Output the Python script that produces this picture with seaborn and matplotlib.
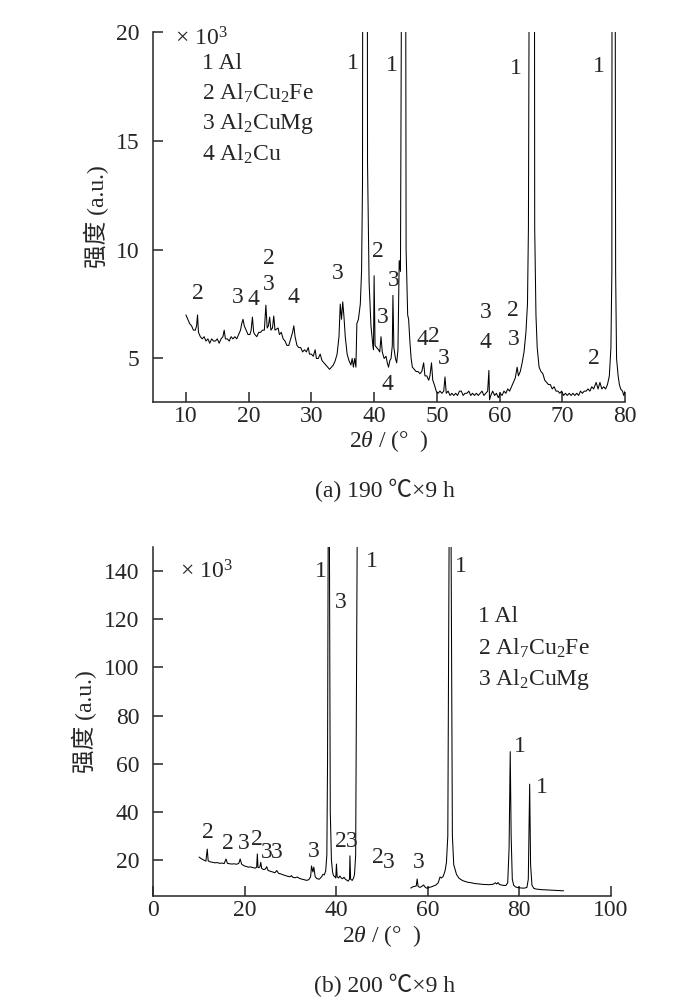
import numpy as np
import pandas as pd
import matplotlib
matplotlib.use('Agg')
import matplotlib.pyplot as plt
import seaborn as sns

# XRD pattern (a) 190 C x 9 h, intensity in 10^3 counts (peaks of Al run off the scale)
two_theta_a = [
    10.0, 10.3, 10.6, 10.9, 11.2, 11.5, 11.7, 11.85, 12.0, 12.3, 12.6, 12.9, 13.2, 13.5, 13.8,
    14.1, 14.4, 14.7, 15.0, 15.3, 15.6, 15.9, 16.1, 16.3, 16.6, 16.9, 17.2, 17.5, 17.8, 18.1,
    18.4, 18.7, 18.9, 19.1, 19.3, 19.6, 19.9, 20.2, 20.4, 20.6, 20.8, 21.0, 21.3, 21.6, 21.9,
    22.2, 22.5, 22.75, 22.95, 23.15, 23.35, 23.55, 23.8, 24.0, 24.2, 24.45, 24.7, 24.9, 25.2,
    25.5, 25.8, 26.1, 26.4, 26.7, 27.0, 27.2, 27.4, 27.7, 28.0, 28.3, 28.6, 28.9, 29.2, 29.5,
    29.7, 30.0, 30.3, 30.6, 30.8, 31.1, 31.4, 31.7, 32.0, 32.3, 32.6, 32.9, 33.2, 33.5, 33.8,
    34.1, 34.4, 34.6, 34.8, 35.0, 35.2, 35.4, 35.7, 36.0, 36.3, 36.5, 36.7, 36.9, 37.1, 37.25,
    37.5, 37.8, 38.0, 38.15, 38.3, 38.55, 38.8, 38.95, 39.2, 39.5, 39.8, 39.9, 40.0, 40.15,
    40.4, 40.7, 40.9, 41.1, 41.3, 41.6, 41.9, 42.1, 42.3, 42.5, 42.7, 42.9, 43.0, 43.15, 43.4,
    43.6, 43.8, 44.0, 44.2, 44.35, 44.45, 44.7, 44.85, 45.1, 45.35, 45.5, 45.7, 45.9, 46.1,
    46.4, 46.7, 47.0, 47.3, 47.6, 47.9, 48.1, 48.4, 48.7, 48.9, 49.15, 49.35, 49.6, 49.9, 50.2,
    50.5, 50.8, 51.1, 51.3, 51.5, 51.8, 52.1, 52.4, 52.7, 53.0, 53.3, 53.6, 53.9, 54.2, 54.5,
    54.8, 55.1, 55.4, 55.7, 56.0, 56.3, 56.6, 56.9, 57.2, 57.5, 57.8, 58.1, 58.3, 58.4, 58.6,
    58.9, 59.2, 59.5, 59.8, 60.1, 60.4, 60.7, 61.0, 61.3, 61.6, 61.9, 62.2, 62.5, 62.8, 63.0,
    63.3, 63.6, 63.9, 64.2, 64.45, 64.6, 64.7, 64.95, 65.2, 65.45, 65.6, 65.8, 66.0, 66.3,
    66.6, 66.9, 67.2, 67.5, 67.8, 68.1, 68.4, 68.7, 69.0, 69.3, 69.6, 69.9, 70.2, 70.5, 70.8,
    71.1, 71.4, 71.7, 72.0, 72.3, 72.6, 72.9, 73.2, 73.5, 73.8, 74.1, 74.4, 74.7, 75.0, 75.4,
    75.7, 76.0, 76.3, 76.6, 76.9, 77.2, 77.5, 77.75, 77.9, 78.0, 78.25, 78.5, 78.65, 78.9,
    79.1, 79.3, 79.6, 79.8, 80.0,
]
intensity_a = [
    7.0, 6.8, 6.6, 6.5, 6.3, 6.3, 6.5, 7.0, 6.2, 6.0, 5.9, 6.0, 5.8, 5.9, 5.7,
    5.9, 5.8, 5.8, 5.9, 5.7, 5.9, 6.0, 6.3, 5.9, 5.9, 5.8, 6.0, 5.9, 6.0, 5.9,
    6.1, 6.3, 6.6, 6.8, 6.5, 6.3, 6.1, 6.1, 6.3, 6.9, 6.2, 6.1, 6.0, 6.2, 6.2,
    6.3, 6.3, 7.45, 6.4, 6.5, 6.9, 6.3, 6.4, 6.95, 6.3, 6.35, 6.4, 6.1, 6.2,
    5.9, 5.8, 5.6, 5.6, 5.9, 6.2, 6.5, 6.0, 5.6, 5.5, 5.5, 5.3, 5.4, 5.3, 5.5,
    5.2, 5.2, 5.1, 5.4, 5.0, 5.0, 5.2, 4.9, 4.8, 4.7, 4.6, 4.5, 4.6, 4.7, 4.9,
    5.2, 6.0, 7.5, 6.8, 7.6, 6.9, 6.0, 5.2, 4.9, 4.7, 5.0, 4.6, 5.0, 4.6, 6.6,
    6.8, 7.5, 9.0, 13.0, 60.0, 60.0, 60.0, 14.0, 8.5, 6.5, 5.6, 5.4, 8.8, 5.6,
    5.5, 5.4, 5.3, 6.0, 5.3, 5.0, 5.1, 4.8, 4.6, 4.9, 5.0, 5.6, 7.9, 5.5, 5.0,
    4.8, 5.4, 9.5, 9.0, 20.0, 60.0, 60.0, 60.0, 10.0, 7.0, 6.8, 5.8, 5.0, 4.6,
    4.5, 4.4, 4.4, 4.3, 4.4, 4.8, 4.2, 4.2, 4.0, 4.2, 4.8, 4.0, 3.8, 3.5, 3.4,
    3.5, 3.4, 3.5, 4.15, 3.4, 3.5, 3.3, 3.4, 3.3, 3.4, 3.3, 3.5, 3.5, 3.3, 3.4,
    3.4, 3.5, 3.3, 3.4, 3.3, 3.4, 3.3, 3.4, 3.5, 3.3, 3.4, 3.5, 4.45, 3.1, 3.3,
    3.5, 3.3, 3.4, 3.2, 3.4, 3.3, 3.5, 3.4, 3.6, 3.5, 3.7, 3.9, 4.1, 4.6, 4.2,
    4.4, 4.8, 5.3, 6.2, 7.5, 11.0, 20.0, 60.0, 60.0, 60.0, 11.0, 7.0, 5.5, 4.6,
    4.4, 4.3, 4.0, 3.9, 3.8, 3.8, 3.6, 3.7, 3.5, 3.5, 3.4, 3.5, 3.3, 3.4, 3.3,
    3.4, 3.3, 3.4, 3.3, 3.4, 3.3, 3.5, 3.4, 3.5, 3.5, 3.6, 3.5, 3.7, 3.6, 3.9,
    3.6, 3.9, 3.6, 3.7, 3.6, 3.8, 4.2, 5.5, 9.0, 60.0, 60.0, 9.0, 5.0, 4.2,
    3.8, 3.6, 3.5, 3.3, 3.5,
]

# XRD pattern (b) 200 C x 9 h, two recorded segments
two_theta_b1 = [
    10.0, 10.5, 11.0, 11.5, 11.8, 12.0, 12.5, 13.0, 13.5, 14.0, 14.5, 15.0, 15.5, 15.9, 16.2,
    16.7, 17.2, 17.7, 18.2, 18.7, 19.0, 19.3, 19.8, 20.3, 20.8, 21.3, 21.8, 22.3, 22.6, 22.75,
    22.9, 23.3, 23.5, 23.7, 24.1, 24.5, 24.8, 25.1, 25.6, 26.1, 26.6, 27.0, 27.4, 27.9, 28.4,
    28.9, 29.4, 29.9, 30.2, 30.5, 31.0, 31.5, 32.0, 32.5, 33.0, 33.5, 34.0, 34.4, 34.6, 34.9,
    35.1, 35.4, 35.8, 36.3, 36.8, 37.1, 37.4, 37.7, 37.95, 38.1, 38.25, 38.5, 38.7, 38.95,
    39.2, 39.4, 39.7, 39.9, 40.05, 40.2, 40.5, 40.8, 41.1, 41.4, 41.7, 42.0, 42.3, 42.6,
    42.9, 43.0, 43.15, 43.5, 43.8, 44.0, 44.25, 44.6,
]
intensity_b1 = [
    21.2, 20.5, 20.0, 19.5, 24.5, 19.6, 19.2, 19.0, 18.8, 18.9, 18.6, 18.7, 18.5, 20.4, 18.6,
    18.4, 18.3, 18.4, 18.2, 18.6, 20.4, 18.3, 17.6, 17.3, 17.0, 17.1, 16.8, 16.6, 17.0, 22.5,
    16.8, 17.0, 19.0, 16.5, 16.0, 16.2, 17.2, 15.6, 15.3, 15.0, 14.7, 15.6, 14.4, 14.2, 13.8,
    13.5, 13.2, 13.0, 13.5, 12.8, 12.6, 12.9, 12.3, 12.0, 11.8, 11.5, 11.8, 13.0, 17.5, 15.0,
    17.0, 13.0, 12.2, 12.0, 13.0, 14.0, 13.8, 15.5, 22.0, 60.0, 160.0, 160.0, 40.0, 20.0,
    15.0, 13.5, 13.0, 12.5, 18.3, 13.0, 12.5, 13.3, 12.5, 12.2, 12.8, 12.0, 11.6, 11.2,
    12.0, 21.7, 12.0, 11.5, 12.5, 14.0, 22.0, 160.0,
]
two_theta_b2 = [
    56.3, 56.7, 57.1, 57.5, 57.7, 57.9, 58.3, 58.7, 59.1, 59.5, 59.9, 60.3, 60.8, 61.3, 61.8,
    62.3, 62.7, 63.0, 63.4, 63.8, 64.1, 64.4, 64.7, 65.1, 65.4, 65.7, 66.3, 66.8, 67.3, 67.8,
    68.3, 68.8, 69.3, 69.8, 70.3, 70.8, 71.3, 71.8, 72.3, 72.8, 73.3, 73.8, 74.3, 74.8, 75.1,
    75.4, 75.7, 76.1, 76.6, 77.1, 77.5, 77.8, 78.05, 78.25, 78.5, 78.8, 79.2, 79.7, 80.2, 80.7,
    81.2, 81.7, 82.0, 82.3, 82.5, 82.8, 83.2, 83.7, 84.2, 84.7, 85.2, 85.7, 86.2, 86.7, 87.2,
    87.7, 88.2, 88.7, 89.2, 89.7,
]
intensity_b2 = [
    8.3, 8.8, 9.0, 9.2, 12.1, 9.0, 8.6, 9.0, 9.6, 8.6, 8.2, 8.6, 8.8, 9.2, 9.6,
    10.5, 12.9, 12.5, 13.2, 15.5, 19.0, 30.0, 160.0, 160.0, 30.0, 18.0, 14.0, 12.5, 11.8, 11.3,
    11.0, 10.7, 10.6, 10.4, 10.2, 10.1, 10.0, 9.9, 9.8, 9.8, 9.7, 9.8, 9.9, 10.5, 10.0,
    10.6, 9.8, 9.6, 9.4, 9.4, 10.5, 25.0, 65.0, 30.0, 12.0, 9.5, 8.8, 8.5, 8.4, 8.3,
    8.3, 8.6, 12.0, 51.5, 18.0, 9.5, 8.2, 7.9, 7.8, 7.7, 7.6, 7.6, 7.5, 7.5, 7.4,
    7.4, 7.3, 7.3, 7.2, 7.2,
]

# phase labels: (2theta, intensity, text)
labels_a = [
    (36.6, 18.55, '1'), (42.9, 18.45, '1'), (62.6, 18.3, '1'), (75.8, 18.4, '1'),
    (11.9, 8.0, '2'), (18.3, 7.8, '3'), (20.7, 7.7, '4'), (23.2, 9.6, '2'), (23.2, 8.4, '3'),
    (27.2, 7.8, '4'), (34.2, 8.9, '3'), (40.6, 9.9, '2'), (43.1, 8.6, '3'), (41.4, 6.9, '3'),
    (42.2, 3.8, '4'), (47.7, 5.85, '4'), (49.6, 6.0, '2'), (51.1, 5.0, '3'),
    (57.8, 7.1, '3'), (57.8, 5.75, '4'), (62.2, 7.2, '2'), (62.2, 5.85, '3'), (75.1, 5.0, '2'),
]
legend_a = ['1 Al', '2 Al$_7$Cu$_2$Fe', '3 Al$_2$CuMg', '4 Al$_2$Cu']
legend_a_y = [18.55, 17.2, 15.8, 14.4]

labels_b = [
    (36.6, 140, '1'), (41.0, 127, '3'), (47.8, 144, '1'), (67.3, 142, '1'),
    (80.2, 67, '1'), (85.0, 50, '1'),
    (12.0, 31.5, '2'), (16.2, 27, '2'), (19.7, 27, '3'), (22.7, 28.5, '2'), (24.9, 23, '3'),
    (27.1, 23, '3'), (35.0, 23.5, '3'), (41.0, 27.5, '2'), (43.4, 27.5, '3'),
    (49.1, 21, '2'), (51.5, 18.8, '3'), (58.1, 19, '3'),
]
legend_b = ['1 Al', '2 Al$_7$Cu$_2$Fe', '3 Al$_2$CuMg']
legend_b_y = [121, 108, 95]

sns.set_style('ticks')
plt.rcParams['font.family'] = ['Liberation Serif', 'Noto Sans CJK SC']
plt.rcParams['mathtext.fontset'] = 'custom'
plt.rcParams['mathtext.rm'] = 'Liberation Serif'
plt.rcParams['mathtext.it'] = 'Liberation Serif:italic'
plt.rcParams['axes.linewidth'] = 1.1
fs = 17

fig = plt.figure(figsize=(7.0, 10.06), dpi=100)
ax1 = fig.add_axes([0.2190, 0.6004, 0.6739, 0.3678])
ax2 = fig.add_axes([0.2190, 0.1093, 0.6533, 0.3469])

df_a = pd.DataFrame({'x': two_theta_a, 'y': intensity_a})
sns.lineplot(data=df_a, x='x', y='y', ax=ax1, color='black', lw=0.75,
             estimator=None, sort=False)
for xs, ys in [(two_theta_b1, intensity_b1), (two_theta_b2, intensity_b2)]:
    seg = pd.DataFrame({'x': xs, 'y': ys})
    sns.lineplot(data=seg, x='x', y='y', ax=ax2, color='black', lw=0.75,
                 estimator=None, sort=False)

ax1.set_xlim(4.8, 80)
ax1.set_ylim(3, 20)
ax1.set_xticks(range(10, 81, 10))
ax1.set_yticks([5, 10, 15, 20])
ax2.set_xlim(0, 100)
ax2.set_ylim(5, 150)
ax2.set_xticks(range(0, 101, 20))
ax2.set_yticks(range(20, 141, 20))

for ax in (ax1, ax2):
    sns.despine(ax=ax)
    ax.tick_params(axis='x', direction='in', length=7, width=1.1, labelsize=fs, pad=3)
    ax.tick_params(axis='y', direction='in', length=7, width=1.1, labelsize=fs, pad=10)
    ax.set_xlabel(r'2$\theta$ / (°  )', fontsize=fs, labelpad=1)
    ax.set_ylabel('强度 (a.u.)', fontsize=fs, labelpad=5)

for x, y, t in labels_a:
    ax1.text(x, y, t, fontsize=fs, ha='center', va='center')
for t, y in zip(legend_a, legend_a_y):
    ax1.text(12.6, y, t, fontsize=fs, ha='left', va='center')
ax1.text(8.3, 19.7, '× 10$^3$', fontsize=fs, ha='left', va='center')

for x, y, t in labels_b:
    ax2.text(x, y, t, fontsize=fs, ha='center', va='center')
for t, y in zip(legend_b, legend_b_y):
    ax2.text(71.0, y, t, fontsize=fs, ha='left', va='center')
ax2.text(5.8, 139.5, '× 10$^3$', fontsize=fs, ha='left', va='center')

fig.text(0.55, 0.513, '(a) 190 ℃×9 h', fontsize=fs, ha='center', va='center')
fig.text(0.55, 0.021, '(b) 200 ℃×9 h', fontsize=fs, ha='center', va='center')

fig.savefig('out.png', dpi=100)
